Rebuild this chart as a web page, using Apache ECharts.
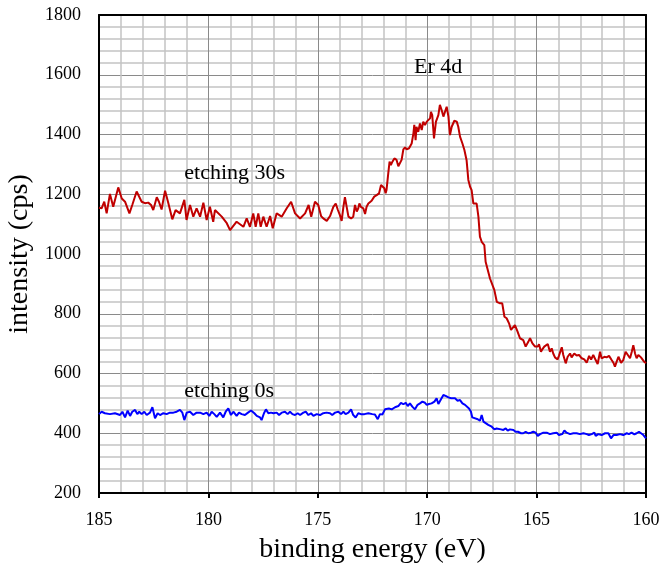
<!DOCTYPE html>
<html>
<head>
<meta charset="utf-8">
<title>Er 4d XPS</title>
<script src="https://cdn.jsdelivr.net/npm/echarts@6/dist/echarts.min.js"></script>
<style>
  html, body { margin: 0; padding: 0; background: #fff; }
  #chart { width: 662px; height: 567px; }
</style>
</head>
<body>
<div id="chart"></div>
<script>
// Er 4d region, binding energy (eV) vs intensity (cps)

// etching 30s
const etch30Energy = [
  185.0, 184.88, 184.76, 184.65, 184.5, 184.35, 184.12, 183.96, 183.81, 183.61,
  183.48, 183.28, 183.05, 182.9, 182.75, 182.62, 182.52, 182.36, 182.26, 182.14,
  181.98, 181.83, 181.65, 181.5, 181.3, 181.1, 181.0, 180.84, 180.69, 180.54,
  180.38, 180.23, 180.08, 179.93, 179.78, 179.7, 179.39, 179.16, 179.01, 178.71,
  178.4, 178.25, 178.1, 177.95, 177.84, 177.72, 177.61, 177.49, 177.34, 177.18,
  177.06, 176.88, 176.65, 176.42, 176.22, 176.04, 175.81, 175.58, 175.42, 175.3,
  175.13, 174.98, 174.85, 174.75, 174.59, 174.44, 174.29, 174.18, 174.09, 173.99,
  173.91, 173.83, 173.76, 173.68, 173.6, 173.48, 173.38, 173.3, 173.22, 173.15,
  173.1, 173.03, 172.92, 172.84, 172.77, 172.69, 172.54, 172.42, 172.31, 172.2,
  172.11, 172.04, 171.96, 171.9, 171.86, 171.78, 171.72, 171.66, 171.59, 171.5,
  171.4, 171.32, 171.24, 171.17, 171.09, 171.01, 170.94, 170.83, 170.71, 170.63,
  170.59, 170.53, 170.49, 170.41, 170.33, 170.25, 170.18, 170.1, 170.02, 169.95,
  169.87, 169.83, 169.77, 169.69, 169.6, 169.49, 169.42, 169.34, 169.26, 169.19,
  169.11, 169.03, 168.96, 168.88, 168.76, 168.65, 168.58, 168.5, 168.39, 168.3,
  168.2, 168.12, 168.04, 167.97, 167.89, 167.82, 167.74, 167.66, 167.59, 167.51,
  167.39, 167.33, 167.24, 167.13, 167.05, 166.93, 166.82, 166.67, 166.57, 166.47,
  166.37, 166.26, 166.17, 166.09, 165.99, 165.87, 165.76, 165.61, 165.5, 165.38,
  165.3, 165.19, 165.07, 164.95, 164.89, 164.8, 164.74, 164.65, 164.49, 164.39,
  164.31, 164.24, 164.16, 164.04, 163.98, 163.85, 163.78, 163.67, 163.58, 163.47,
  163.4, 163.28, 163.17, 163.06, 162.94, 162.82, 162.71, 162.6, 162.51, 162.41,
  162.3, 162.21, 162.1, 162.03, 161.9, 161.8, 161.69, 161.57, 161.49, 161.42,
  161.34, 161.26, 161.14, 161.04, 160.93, 160.84, 160.73, 160.65, 160.58, 160.5,
  160.43, 160.35, 160.23, 160.17, 160.08, 160.0
];
const etch30Counts = [
  1155, 1153, 1175, 1136, 1201, 1158, 1223, 1186, 1175, 1136,
  1164, 1209, 1175, 1170, 1172, 1164, 1147, 1190, 1175, 1149,
  1212, 1170, 1116, 1147, 1136, 1181, 1114, 1164, 1125, 1153,
  1125, 1172, 1114, 1158, 1108, 1147, 1125, 1103, 1080, 1108,
  1091, 1119, 1091, 1136, 1091, 1136, 1091, 1125, 1091, 1127,
  1086, 1136, 1125, 1153, 1175, 1136, 1119, 1136, 1164, 1125,
  1175, 1164, 1127, 1119, 1111, 1127, 1158, 1169, 1149, 1130,
  1111, 1158, 1190, 1186, 1125, 1119, 1125, 1164, 1142, 1153,
  1169, 1158, 1153, 1134, 1158, 1169, 1178, 1192, 1197, 1203,
  1231, 1233, 1220, 1203, 1214, 1270, 1309, 1298, 1309, 1320,
  1315, 1294, 1294, 1315, 1350, 1357, 1350, 1354, 1370, 1404,
  1432, 1381, 1426, 1409, 1437, 1415, 1443, 1432, 1443, 1443,
  1454, 1476, 1465, 1387, 1443, 1465, 1499, 1482, 1460, 1460,
  1493, 1460, 1398, 1426, 1446, 1443, 1426, 1393, 1370, 1348,
  1314, 1248, 1225, 1214, 1169, 1164, 1169, 1125, 1058, 1041,
  1030, 974, 969, 918, 913, 879, 840, 835, 835, 790,
  785, 768, 746, 746, 762, 740, 718, 712, 690, 706,
  718, 701, 690, 690, 698, 673, 681, 690, 699, 673,
  684, 667, 654, 647, 659, 688, 662, 634, 656, 667,
  654, 667, 660, 662, 651, 647, 636, 659, 647, 662,
  645, 632, 673, 651, 656, 654, 659, 645, 636, 623,
  640, 656, 636, 645, 673, 676, 651, 673, 695, 667,
  651, 662, 654, 659, 639, 634
];

// etching 0s
const etch0Energy = [
  185.0, 184.88, 184.73, 184.5, 184.27, 184.04, 183.93, 183.81, 183.69, 183.58,
  183.48, 183.35, 183.25, 183.16, 183.05, 182.93, 182.82, 182.67, 182.56, 182.44,
  182.32, 182.21, 182.06, 181.91, 181.76, 181.6, 181.45, 181.3, 181.19, 181.1,
  180.99, 180.84, 180.69, 180.54, 180.38, 180.23, 180.08, 179.96, 179.85, 179.73,
  179.62, 179.47, 179.32, 179.21, 179.09, 178.97, 178.86, 178.71, 178.6, 178.48,
  178.33, 178.19, 178.05, 177.9, 177.79, 177.64, 177.57, 177.46, 177.37, 177.26,
  177.14, 177.03, 176.88, 176.77, 176.65, 176.5, 176.38, 176.27, 176.16, 176.04,
  175.92, 175.81, 175.66, 175.55, 175.43, 175.31, 175.2, 175.05, 174.9, 174.75,
  174.6, 174.44, 174.34, 174.21, 174.06, 173.94, 173.83, 173.73, 173.6, 173.48,
  173.38, 173.27, 173.15, 173.03, 172.87, 172.69, 172.51, 172.39, 172.26, 172.16,
  172.05, 171.93, 171.85, 171.75, 171.62, 171.47, 171.32, 171.2, 171.09, 170.98,
  170.89, 170.79, 170.68, 170.56, 170.44, 170.33, 170.22, 170.1, 170.02, 169.92,
  169.8, 169.67, 169.57, 169.49, 169.37, 169.26, 169.16, 169.03, 168.91, 168.84,
  168.73, 168.61, 168.5, 168.39, 168.27, 168.2, 168.09, 168.0, 167.94, 167.85,
  167.69, 167.59, 167.51, 167.43, 167.36, 167.21, 167.05, 166.93, 166.83, 166.75,
  166.63, 166.52, 166.41, 166.32, 166.22, 166.06, 165.96, 165.85, 165.71, 165.61,
  165.5, 165.38, 165.26, 165.15, 165.04, 164.95, 164.84, 164.69, 164.54, 164.39,
  164.24, 164.08, 163.98, 163.83, 163.73, 163.63, 163.47, 163.32, 163.17, 163.02,
  162.86, 162.71, 162.61, 162.48, 162.36, 162.3, 162.18, 162.03, 161.87, 161.72,
  161.6, 161.49, 161.34, 161.19, 161.04, 160.88, 160.78, 160.66, 160.53, 160.43,
  160.32, 160.23, 160.12, 160.0
];
const etch0Counts = [
  464, 472, 467, 464, 467, 461, 472, 453, 476, 458,
  472, 478, 464, 472, 464, 472, 461, 469, 487, 450,
  467, 461, 467, 464, 469, 469, 472, 478, 469, 444,
  469, 472, 461, 469, 469, 464, 469, 458, 472, 464,
  455, 469, 453, 472, 483, 461, 472, 458, 469, 464,
  461, 469, 476, 467, 458, 453, 444, 467, 480, 467,
  469, 467, 469, 461, 469, 472, 464, 472, 464, 461,
  467, 461, 469, 472, 461, 467, 458, 464, 461, 467,
  469, 467, 461, 469, 472, 464, 472, 464, 469, 480,
  461, 453, 467, 464, 464, 467, 464, 463, 447, 464,
  463, 480, 486, 483, 480, 487, 491, 502, 497, 502,
  491, 500, 489, 480, 495, 500, 506, 502, 495, 498,
  500, 506, 517, 498, 514, 528, 525, 520, 517, 511,
  517, 509, 511, 500, 495, 498, 483, 472, 453, 447,
  447, 442, 461, 439, 433, 428, 422, 413, 416, 422,
  413, 411, 416, 409, 413, 411, 405, 405, 400, 400,
  405, 400, 402, 405, 402, 391, 397, 402, 402, 397,
  400, 402, 394, 397, 409, 402, 397, 400, 400, 397,
  400, 397, 394, 397, 402, 391, 397, 394, 400, 400,
  383, 394, 394, 397, 394, 400, 397, 402, 396, 400,
  405, 409, 394, 383
];

const energyTicks = [185, 180, 175, 170, 165, 160];
const countTicks = [200, 400, 600, 800, 1000, 1200, 1400, 1600, 1800];

const serif = "'Liberation Serif', 'Times New Roman', serif";

function pairs(xs, ys) {
  return xs.map((x, i) => [x, ys[i]]);
}

const chart = echarts.init(document.getElementById('chart'), null, { renderer: 'canvas' });

const xRange = { min: energyTicks[energyTicks.length - 1], max: energyTicks[0], interval: 5 };
const yRange = { min: countTicks[0], max: countTicks[countTicks.length - 1], interval: 200 };

chart.setOption({
  animation: false,
  backgroundColor: '#ffffff',
  grid: { left: 99, right: 16, top: 15, bottom: 74, containLabel: false, outerBoundsMode: 'none' },
  xAxis: [
    {
      type: 'value',
      inverse: true,
      min: xRange.min, max: xRange.max, interval: xRange.interval,
      name: 'binding energy (eV)',
      nameLocation: 'middle',
      nameGap: 43,
      nameTextStyle: { fontFamily: serif, fontSize: 28, color: '#000' },
      axisLine: { show: true, onZero: false, lineStyle: { color: '#000', width: 2 } },
      axisTick: { show: true, inside: false, length: 5, lineStyle: { color: '#000', width: 2 } },
      axisLabel: { fontFamily: serif, fontSize: 18, color: '#000', margin: 18, formatter: v => String(v) },
      splitLine: { show: true, lineStyle: { color: '#8a8a8a', width: 1 } },
      minorTick: { show: false, splitNumber: 5 },
      minorSplitLine: { show: true, lineStyle: { color: '#c4c4c4', width: 1.5 } }
    },
    {
      type: 'value',
      position: 'top',
      inverse: true,
      min: xRange.min, max: xRange.max, interval: xRange.interval,
      axisLine: { show: true, onZero: false, lineStyle: { color: '#000', width: 2 } },
      axisTick: { show: false },
      axisLabel: { show: false },
      splitLine: { show: false }
    }
  ],
  yAxis: [
    {
      type: 'value',
      min: yRange.min, max: yRange.max, interval: yRange.interval,
      name: 'intensity (cps)',
      nameLocation: 'middle',
      nameGap: 60,
      nameRotate: 90,
      nameTextStyle: { fontFamily: serif, fontSize: 28, color: '#000' },
      axisLine: { show: true, onZero: false, lineStyle: { color: '#000', width: 2 } },
      axisTick: { show: false },
      axisLabel: { fontFamily: serif, fontSize: 18, color: '#000', margin: 18, formatter: v => String(v) },
      splitLine: { show: true, lineStyle: { color: '#8a8a8a', width: 1 } },
      minorTick: { show: false, splitNumber: 5 },
      minorSplitLine: { show: true, lineStyle: { color: '#c4c4c4', width: 1.5 } }
    },
    {
      type: 'value',
      position: 'right',
      min: yRange.min, max: yRange.max, interval: yRange.interval,
      axisLine: { show: true, onZero: false, lineStyle: { color: '#000', width: 2 } },
      axisTick: { show: false },
      axisLabel: { show: false },
      splitLine: { show: false }
    }
  ],
  series: [
    {
      name: 'etching 30s',
      type: 'line',
      data: pairs(etch30Energy, etch30Counts),
      showSymbol: false,
      symbol: 'none',
      lineStyle: { color: '#c00000', width: 2 },
      z: 5
    },
    {
      name: 'etching 0s',
      type: 'line',
      data: pairs(etch0Energy, etch0Counts),
      showSymbol: false,
      symbol: 'none',
      lineStyle: { color: '#0000ff', width: 2 },
      z: 5
    },
    {
      // text annotations placed in data space
      type: 'scatter',
      symbolSize: 0,
      silent: true,
      z: 6,
      itemStyle: { opacity: 1 },
      label: {
        show: true,
        position: 'inside',
        fontFamily: serif,
        fontSize: 22,
        color: '#000',
        opacity: 1,
        formatter: p => p.data.text
      },
      data: [
        { value: [169.5, 1626], text: 'Er 4d' },
        { value: [178.8, 1270], text: 'etching 30s' },
        { value: [179.05, 542], text: 'etching 0s' }
      ]
    }
  ]
});
</script>
</body>
</html>
